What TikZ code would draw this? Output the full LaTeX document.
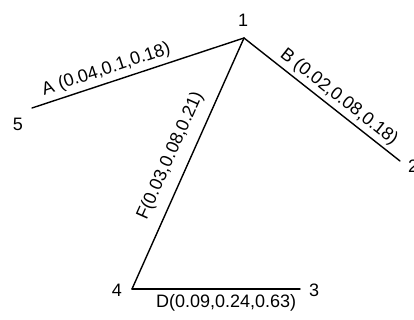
\documentclass[tikz,border=0pt]{standalone}
\usepackage{fontspec}
\setmainfont{Liberation Sans}
\usetikzlibrary{positioning, calc}
\tikzset{
  member/.style={line width=1.4pt, line cap=round},
  joint/.style={inner sep=0pt, font=\fontsize{18}{21}\selectfont},
  memlabel/.style={sloped, inner sep=2pt, font=\fontsize{18}{21}\selectfont}
}

\begin{document}
\begin{tikzpicture}[x=1pt, y=-1pt]
        \useasboundingbox (0,0) rectangle (414,320);

        % Joints
        \coordinate (v1) at (244, 38);
        \coordinate (v2) at (400,161);
        \coordinate (v3) at (300,289);
        \coordinate (v4) at (132,289);
        \coordinate (v5) at ( 32,108);

        % Joint numbers
        \node[joint] (j1) at (243, 20) {1};
        \node[joint] (j2) at (413,166) {2};
        \node[joint] (j3) at (314,290) {3};
        \node[joint] (j4) at (117,290) {4};
        \node[joint] (j5) at ( 18,124) {5};

        % Members
        \draw[member] (v5) -- node[memlabel, above=2pt, pos=0.37] (la) {A (0.04,0.1,0.18)} (v1);
        \draw[member] (v1) -- node[memlabel, above=1pt, pos=0.56] (lb) {B (0.02,0.08,0.18)} (v2);
        \draw[member] (v4) -- node[memlabel, above=8pt, pos=0.5] (lf) {F(0.03,0.08,0.21)} (v1);
        \draw[member] (v4) -- node[memlabel, below=3pt, pos=0.56] (ld) {D(0.09,0.24,0.63)} (v3);
\end{tikzpicture}
\end{document}
